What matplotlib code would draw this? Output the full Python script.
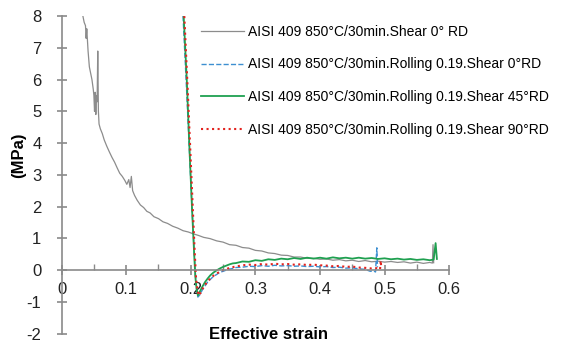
import matplotlib
matplotlib.use("Agg")
from matplotlib import pyplot as plt
from matplotlib.ticker import MultipleLocator

plt.rcParams['font.family'] = ['Liberation Sans', 'DejaVu Sans']
plt.rcParams['axes.unicode_minus'] = False

# annealed sample, shear 0 deg RD
gray_x = [0.033, 0.035, 0.037, 0.038, 0.039, 0.041, 0.043, 0.045, 0.047, 0.049,
          0.050, 0.051, 0.052, 0.053, 0.054, 0.055, 0.056, 0.057, 0.058, 0.060,
          0.063, 0.066, 0.070, 0.074, 0.078, 0.082, 0.086, 0.090, 0.094, 0.098,
          0.101, 0.104, 0.106, 0.108, 0.110, 0.113, 0.117, 0.122, 0.127, 0.132,
          0.137, 0.143, 0.150, 0.157, 0.164, 0.172, 0.180, 0.188, 0.196, 0.204,
          0.212, 0.220, 0.230, 0.240, 0.250, 0.260, 0.270, 0.280, 0.290, 0.300,
          0.310, 0.320, 0.330, 0.340, 0.350, 0.360, 0.370, 0.380, 0.390, 0.400,
          0.410, 0.420, 0.430, 0.440, 0.450, 0.460, 0.470, 0.480, 0.490, 0.500,
          0.510, 0.520, 0.530, 0.540, 0.550, 0.560, 0.570, 0.574, 0.575, 0.576]
gray_y = [8.00, 7.80, 7.70, 7.30, 7.60, 6.90, 6.40, 6.20, 6.00, 5.70,
          5.50, 5.00, 5.60, 4.90, 5.50, 5.30, 6.90, 5.00, 4.60, 4.45,
          4.30, 4.10, 3.90, 3.72, 3.55, 3.40, 3.22, 3.05, 2.95, 2.82,
          2.70, 2.85, 2.60, 2.95, 2.50, 2.35, 2.20, 2.05, 1.97, 1.85,
          1.80, 1.68, 1.62, 1.52, 1.47, 1.38, 1.32, 1.24, 1.20, 1.14,
          1.09, 1.03, 0.99, 0.92, 0.88, 0.80, 0.78, 0.71, 0.69, 0.62,
          0.60, 0.54, 0.52, 0.47, 0.46, 0.41, 0.41, 0.37, 0.37, 0.34,
          0.35, 0.31, 0.33, 0.29, 0.31, 0.27, 0.30, 0.26, 0.28, 0.25,
          0.27, 0.24, 0.26, 0.22, 0.25, 0.21, 0.24, 0.22, 0.80, 0.23]

# rolled 0.19, shear 0 deg RD
blue_x = [0.188, 0.193, 0.198, 0.202, 0.205, 0.207, 0.209, 0.211, 0.214, 0.218,
          0.222, 0.226, 0.230, 0.235, 0.240, 0.245, 0.250, 0.255, 0.260, 0.265,
          0.270, 0.280, 0.290, 0.300, 0.310, 0.320, 0.330, 0.340, 0.350, 0.360,
          0.370, 0.380, 0.390, 0.400, 0.410, 0.420, 0.430, 0.440, 0.450, 0.460,
          0.470, 0.478, 0.482, 0.486, 0.488, 0.489]
blue_y = [8.00, 5.90, 3.70, 1.90, 0.70, -0.10, -0.60, -0.85, -0.78, -0.62,
          -0.50, -0.38, -0.30, -0.20, -0.14, -0.07, -0.04, 0.00, 0.03, 0.05,
          0.08, 0.09, 0.12, 0.11, 0.14, 0.12, 0.15, 0.13, 0.14, 0.12,
          0.13, 0.11, 0.12, 0.10, 0.11, 0.08, 0.09, 0.06, 0.07, 0.04,
          0.02, -0.04, -0.02, -0.06, 0.70, 0.10]

# rolled 0.19, shear 45 deg RD
green_x = [0.189, 0.194, 0.198, 0.202, 0.205, 0.207, 0.209, 0.211, 0.214, 0.218,
           0.222, 0.226, 0.230, 0.235, 0.240, 0.245, 0.250, 0.255, 0.260, 0.265,
           0.270, 0.280, 0.290, 0.300, 0.310, 0.320, 0.330, 0.340, 0.350, 0.360,
           0.370, 0.380, 0.390, 0.400, 0.410, 0.420, 0.430, 0.440, 0.450, 0.460,
           0.470, 0.480, 0.490, 0.500, 0.510, 0.520, 0.530, 0.540, 0.550, 0.560,
           0.570, 0.576, 0.579, 0.581]
green_y = [8.00, 5.90, 3.80, 1.90, 0.60, -0.20, -0.60, -0.80, -0.68, -0.52,
           -0.38, -0.27, -0.17, -0.08, -0.01, 0.05, 0.10, 0.14, 0.18, 0.21,
           0.22, 0.27, 0.26, 0.31, 0.29, 0.34, 0.32, 0.36, 0.34, 0.38,
           0.35, 0.39, 0.36, 0.39, 0.36, 0.40, 0.37, 0.39, 0.36, 0.39,
           0.36, 0.38, 0.35, 0.37, 0.34, 0.36, 0.33, 0.35, 0.32, 0.34,
           0.31, 0.33, 0.85, 0.35]

# rolled 0.19, shear 90 deg RD
red_x = [0.190, 0.195, 0.199, 0.203, 0.206, 0.208, 0.210, 0.212, 0.215, 0.218,
         0.222, 0.226, 0.230, 0.235, 0.240, 0.245, 0.250, 0.255, 0.260, 0.265,
         0.270, 0.275, 0.280, 0.290, 0.300, 0.310, 0.320, 0.330, 0.340, 0.350,
         0.360, 0.370, 0.380, 0.390, 0.400, 0.410, 0.420, 0.430, 0.440, 0.450,
         0.460, 0.470, 0.480, 0.488, 0.493, 0.494, 0.495]
red_y = [8.00, 5.80, 3.90, 2.00, 0.60, -0.20, -0.60, -0.80, -0.72, -0.60,
         -0.47, -0.36, -0.27, -0.18, -0.11, -0.05, 0.00, 0.03, 0.07, 0.09,
         0.12, 0.13, 0.15, 0.17, 0.16, 0.19, 0.17, 0.20, 0.18, 0.19,
         0.17, 0.18, 0.16, 0.17, 0.15, 0.14, 0.12, 0.13, 0.10, 0.11,
         0.08, 0.07, 0.05, 0.06, 0.02, 0.30, 0.05]

labels = ['AISI 409 850°C/30min.Shear 0° RD',
          'AISI 409 850°C/30min.Rolling 0.19.Shear 0°RD',
          'AISI 409 850°C/30min.Rolling 0.19.Shear 45°RD',
          'AISI 409 850°C/30min.Rolling 0.19.Shear 90°RD']

fig = plt.figure(figsize=(5.65, 3.5), dpi=100)
ax = fig.add_axes([0.109, 0.047, 0.686, 0.907])

ax.plot(gray_x, gray_y, color='#8c8c8c', lw=0.9, label=labels[0])
ax.plot(blue_x, blue_y, color='#3d8fd1', lw=1.0, ls='--', label=labels[1])
ax.plot(green_x, green_y, color='#1fa050', lw=1.3, label=labels[2])
ax.plot(red_x, red_y, color='#e3231f', lw=1.5, ls=':', label=labels[3])

ax.set_xlim(0, 0.6)
ax.set_ylim(-2, 8)
for s in ['top', 'right']:
    ax.spines[s].set_visible(False)
ax.spines['bottom'].set_position(('data', 0))
for s in ['left', 'bottom']:
    ax.spines[s].set_color('#8a8a8a')
    ax.spines[s].set_linewidth(1.2)

ax.xaxis.set_major_locator(MultipleLocator(0.1))
ax.xaxis.set_minor_locator(MultipleLocator(0.05))
ax.yaxis.set_major_locator(MultipleLocator(1))
ax.tick_params(axis='both', which='major', direction='inout', length=7,
               width=1.2, color='#8a8a8a', labelsize=12, labelcolor='#222222')
ax.tick_params(axis='x', which='minor', direction='in', length=4,
               width=1.0, color='#8a8a8a')
ax.tick_params(axis='x', pad=5)
ax.tick_params(axis='y', pad=11)
ax.set_xticks([0, 0.1, 0.2, 0.3, 0.4, 0.5, 0.6])
ax.set_xticklabels(['0', '0.1', '0.2', '0.3', '0.4', '0.5', '0.6'])

ax.set_xlabel('Effective strain', fontsize=12, fontweight='bold')
ax.xaxis.set_label_coords(0.533, 0.02)
fig.text(19 / 565, 1 - 155 / 350, '(MPa)', rotation=90, fontsize=12,
         fontweight='bold', ha='center', va='center')

ax.legend(loc='upper left', bbox_to_anchor=(0.355, 0.93),
          bbox_transform=fig.transFigure, frameon=False, fontsize=10,
          handlelength=3.1, handletextpad=0.35, labelspacing=1.36,
          borderpad=0, borderaxespad=0)

plt.savefig('out.png', dpi=100)
